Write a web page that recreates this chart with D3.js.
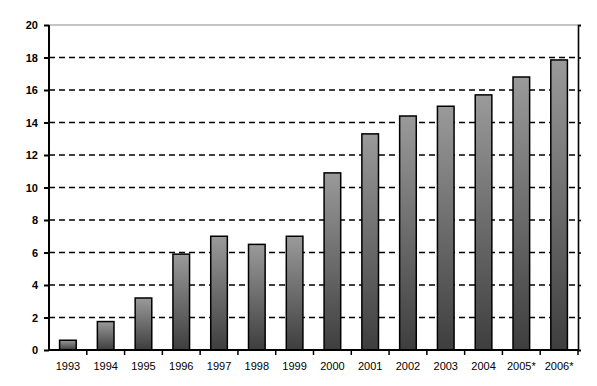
<!DOCTYPE html>
<html>
<head>
<meta charset="utf-8">
<script src="https://cdn.jsdelivr.net/npm/d3@7"></script>
<style>
  body { margin: 0; background: #fff; }
  .tick text { font-family: Arial, "Liberation Sans", sans-serif; font-size: 11px; fill: #000; }
</style>
</head>
<body>
<div class="chart"></div>
<script>
var years = ["1993", "1994", "1995", "1996", "1997", "1998", "1999", "2000",
  "2001", "2002", "2003", "2004", "2005*", "2006*"];
var values = [0.6, 1.75, 3.2, 5.9, 7.0, 6.5, 7.0, 10.9, 13.3, 14.4, 15.0, 15.7, 16.8, 17.85];
var yTicks = [0, 2, 4, 6, 8, 10, 12, 14, 16, 18, 20];

var svgWidth = 597;
var svgHeight = 386;
var margin = { top: 25, right: 19, bottom: 36, left: 49 };
var width = svgWidth - margin.left - margin.right;
var height = svgHeight - margin.top - margin.bottom;

var svg = d3.select(".chart")
  .append("svg")
  .attr("width", svgWidth)
  .attr("height", svgHeight);

// gradient for the bars, light top -> dark bottom
var grad = svg.append("defs").append("linearGradient")
  .attr("id", "barGrad")
  .attr("x1", 0).attr("y1", 0).attr("x2", 0).attr("y2", 1);
grad.append("stop").attr("offset", "0%").attr("stop-color", "#9a9a9a");
grad.append("stop").attr("offset", "100%").attr("stop-color", "#3e3e3e");

var chartGroup = svg.append("g")
  .attr("transform", `translate(${margin.left}, ${margin.top})`);

var x = d3.scaleBand()
  .domain(years)
  .range([0, width])
  .paddingInner(0.56)
  .paddingOuter(0.28);

var y = d3.scaleLinear()
  .domain([0, 20])
  .range([height, 0]);

// gridlines
chartGroup.append("g")
  .selectAll("line")
  .data(yTicks.filter(d => d > 0 && d < 20))
  .enter()
  .append("line")
  .attr("x1", 0)
  .attr("x2", width)
  .attr("y1", d => y(d))
  .attr("y2", d => y(d))
  .attr("stroke", "#000")
  .attr("stroke-width", 1.5)
  .attr("stroke-dasharray", "6,4");

// top border (gray) and right border
chartGroup.append("line")
  .attr("x1", 0).attr("x2", width)
  .attr("y1", y(20)).attr("y2", y(20))
  .attr("stroke", "#8a8a8a").attr("stroke-width", 1.2);

var rightAxis = chartGroup.append("g")
  .attr("transform", `translate(${width}, 0)`)
  .call(d3.axisRight(y).tickValues(yTicks).tickSize(3).tickFormat(""));
rightAxis.selectAll("path, line").attr("stroke", "#000").attr("stroke-width", 1.6);

// bars
chartGroup.selectAll("rect.bar")
  .data(values)
  .enter()
  .append("rect")
  .attr("class", "bar")
  .attr("x", (d, i) => x(years[i]))
  .attr("y", d => y(d))
  .attr("width", x.bandwidth())
  .attr("height", d => height - y(d))
  .attr("fill", "url(#barGrad)")
  .attr("stroke", "#000")
  .attr("stroke-width", 1.5);

// y axis
var leftAxis = chartGroup.append("g")
  .call(d3.axisLeft(y).tickValues(yTicks).tickSize(5).tickPadding(6));
leftAxis.selectAll("path, line").attr("stroke", "#000").attr("stroke-width", 2);
leftAxis.select(".domain").attr("d", `M0,${height}V0`);
leftAxis.selectAll("text").style("font-weight", "bold");

// x axis, ticks between the categories
var xAxis = chartGroup.append("g")
  .attr("transform", `translate(0, ${height})`)
  .call(d3.axisBottom(x).tickSize(0).tickPadding(12));
xAxis.select(".domain").attr("d", `M0,0H${width}`).attr("stroke", "#000").attr("stroke-width", 2);

xAxis.selectAll("line.sep")
  .data(years)
  .enter()
  .append("line")
  .attr("class", "sep")
  .attr("x1", d => x(d) + x.bandwidth() / 2 + x.step() / 2)
  .attr("x2", d => x(d) + x.bandwidth() / 2 + x.step() / 2)
  .attr("y1", 0)
  .attr("y2", 5)
  .attr("stroke", "#000")
  .attr("stroke-width", 1.5);
</script>
</body>
</html>
